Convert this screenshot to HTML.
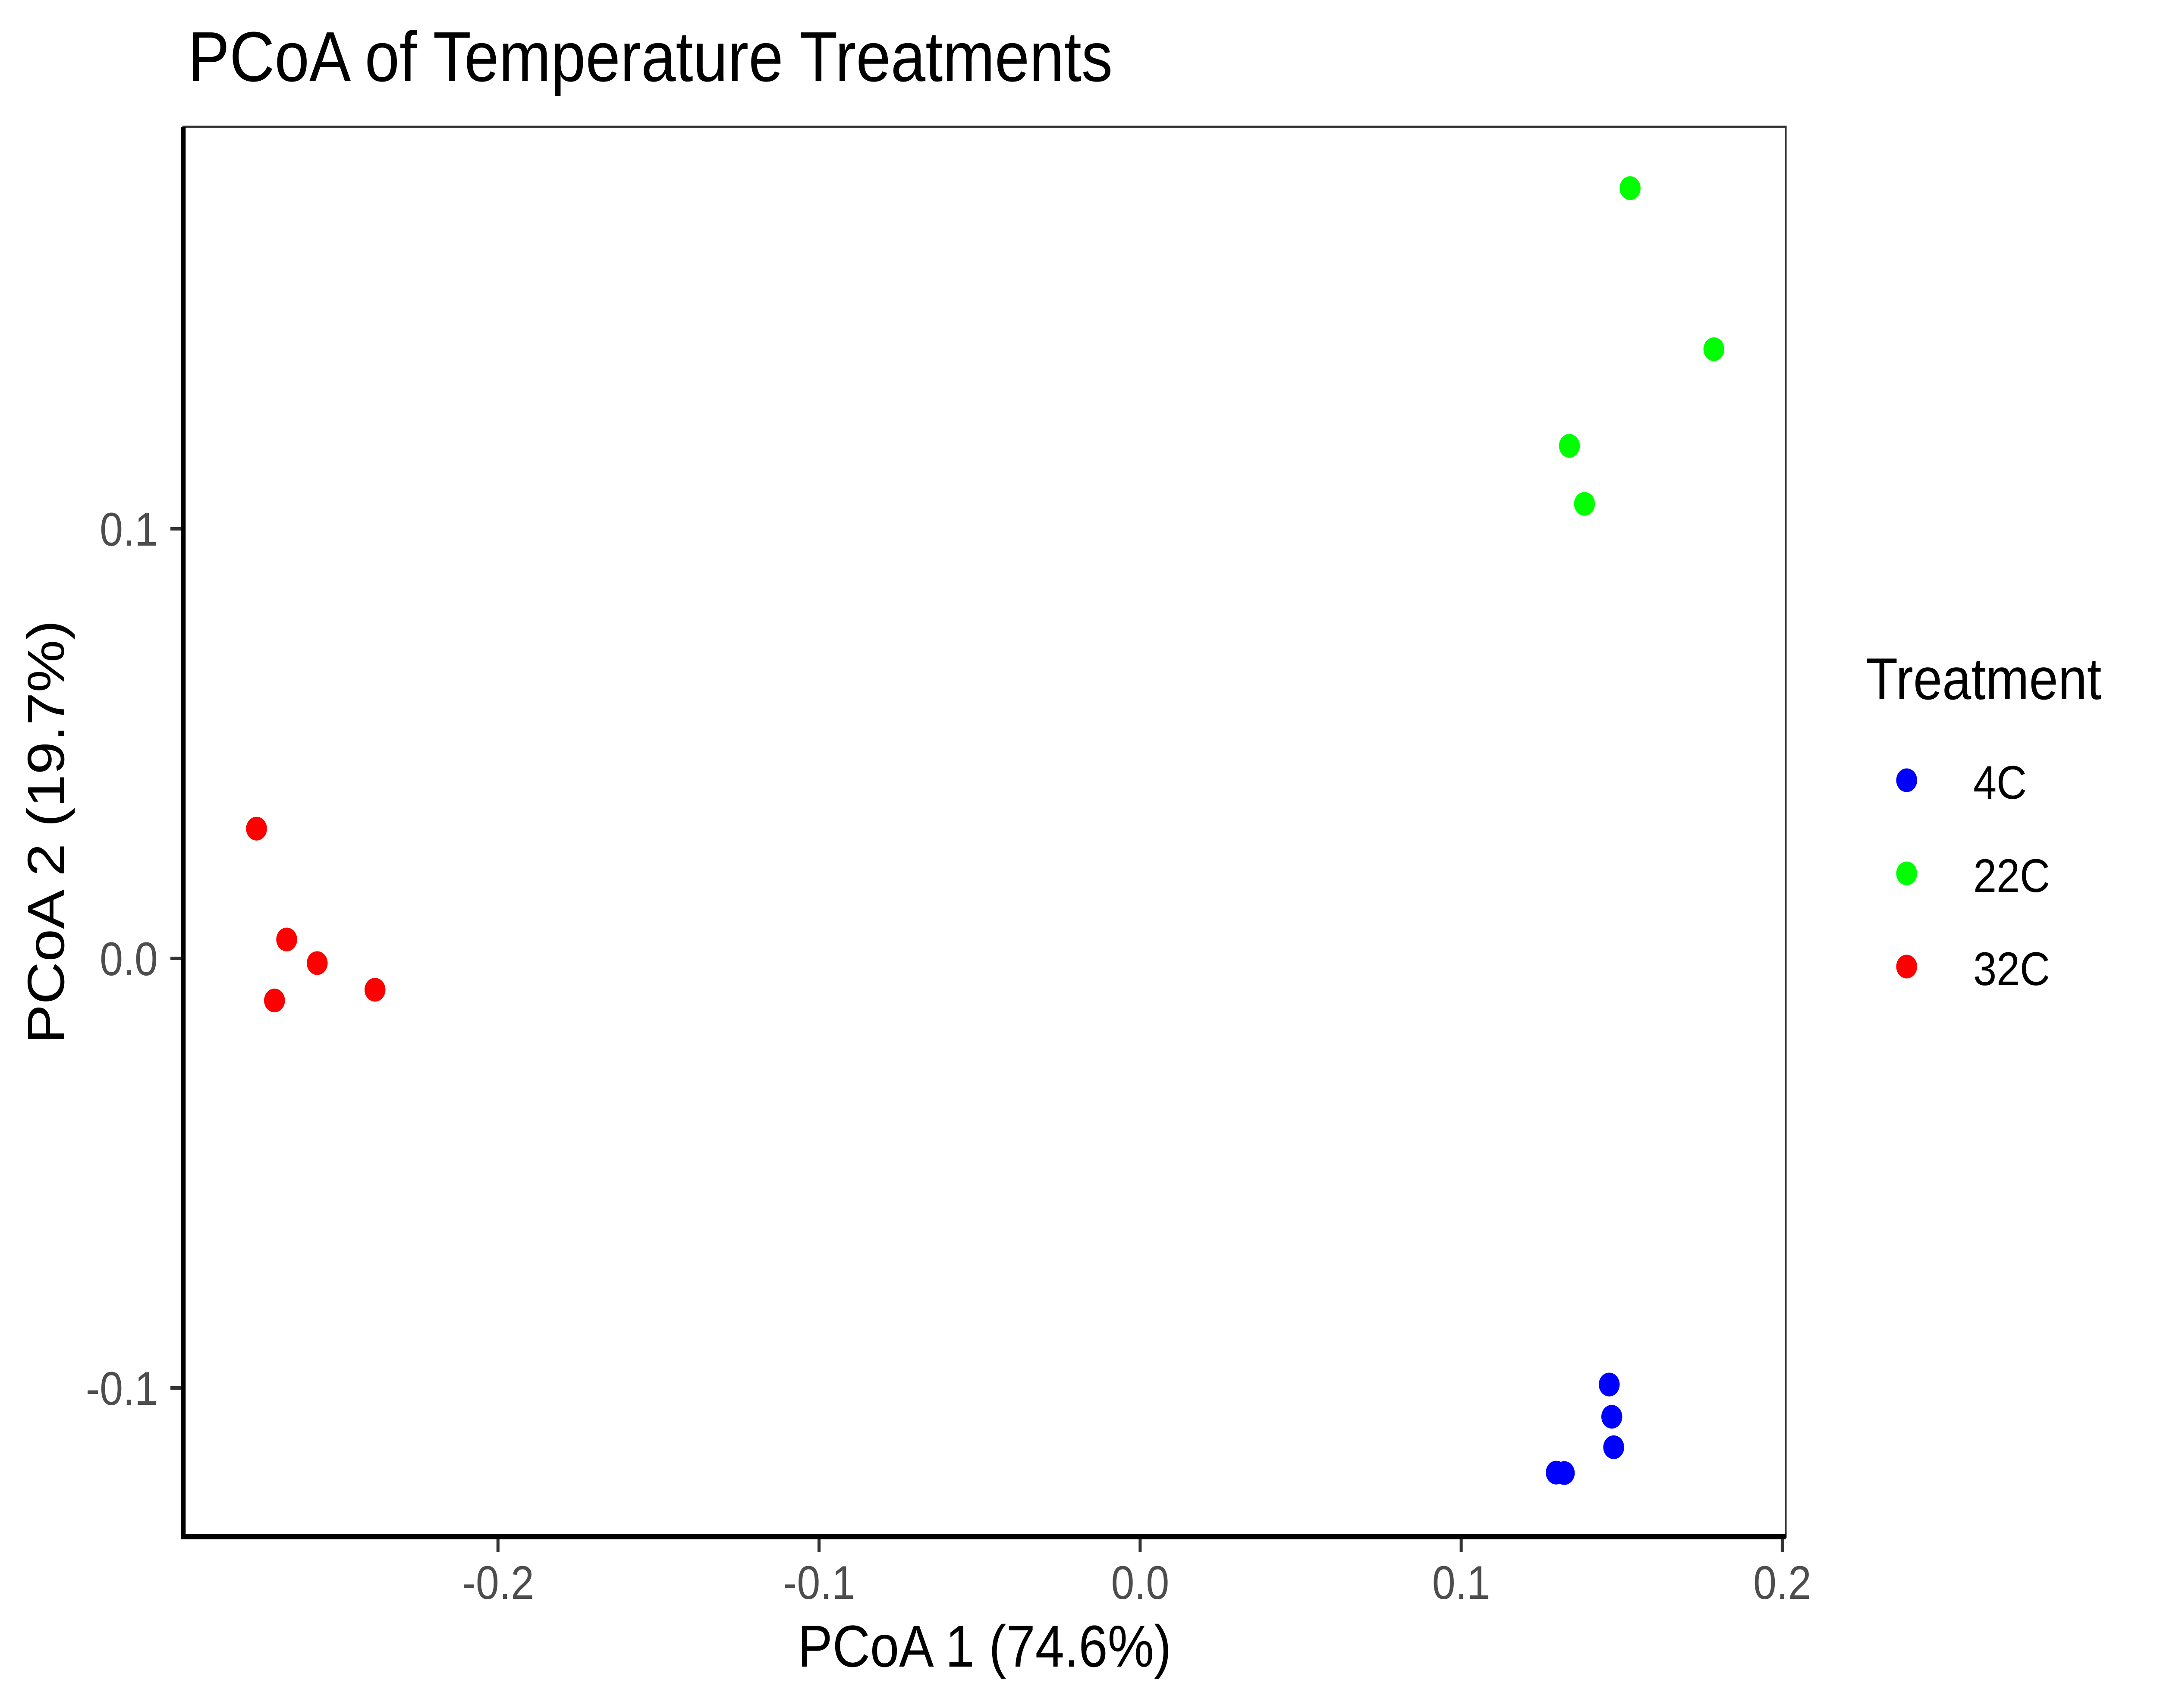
<!DOCTYPE html>
<html><head><meta charset="utf-8">
<style>
html,body{margin:0;padding:0;background:#fff;width:100%;height:100%;overflow:hidden;}
svg{display:block;width:100vw;height:100vh;font-family:"Liberation Sans",Arial,sans-serif;}
</style></head>
<body>
<svg id="chart" viewBox="0 0 5670 3960" preserveAspectRatio="none" xmlns="http://www.w3.org/2000/svg">
<rect x="0" y="0" width="5670" height="3960" fill="#fff"/>
<text x="494" y="188" font-size="164" fill="#000">PCoA of Temperature Treatments</text>
<g id="panel"></g>
<text x="2588" y="3864" font-size="137" text-anchor="middle" fill="#000">PCoA 1 (74.6%)</text>
<text transform="translate(168,1929) rotate(-90)" font-size="137" text-anchor="middle" fill="#000">PCoA 2 (19.7%)</text>
<g>
<text x="4905" y="1621" font-size="137" fill="#000">Treatment</text>
<g id="legend-items"></g>
</g>
</svg>
<script>
const groups = ["4C", "22C", "32C"];
const groupColors = ["#0000FF", "#00FF00", "#FF0000"];
const xTicks = [-0.2, -0.1, 0.0, 0.1, 0.2];
const xTickLabels = ["-0.2", "-0.1", "0.0", "0.1", "0.2"];
const yTicks = [-0.1, 0.0, 0.1];
const yTickLabels = ["-0.1", "0.0", "0.1"];
const pcoa1_4C = [0.1461, 0.1469, 0.1475, 0.1296, 0.1321];
const pcoa2_4C = [-0.0992, -0.1067, -0.1138, -0.1197, -0.1198];
const pcoa1_22C = [0.1526, 0.1787, 0.1337, 0.1384];
const pcoa2_22C = [0.1793, 0.1418, 0.1193, 0.1058];
const pcoa1_32C = [-0.2752, -0.2658, -0.2563, -0.2696, -0.2383];
const pcoa2_32C = [0.0302, 0.0044, -0.0011, -0.0098, -0.0073];

const NS = "http://www.w3.org/2000/svg";
const PL = 482, PR = 4694, PT = 294, PB = 3563;
function xs(v){ return 2997 + v * 8440; }
function ys(v){ return 2222 - v * 9960; }
function mk(tag, attrs, parent){
  const e = document.createElementNS(NS, tag);
  for (const k in attrs) e.setAttribute(k, attrs[k]);
  parent.appendChild(e);
  return e;
}
const panel = document.getElementById('panel');
let border = mk('rect', {x:PL, y:PT, width:PR-PL, height:PB-PT, fill:'none', stroke:'#333', 'stroke-width':5}, panel);



const seriesX = [pcoa1_4C, pcoa1_22C, pcoa1_32C];
const seriesY = [pcoa2_4C, pcoa2_22C, pcoa2_32C];
for (let g = 0; g < groups.length; g++){
  const sg = mk('g', {}, panel);
  
  
  for (let i = 0; i < seriesX[g].length; i++){
    const c = mk('circle', {cx: xs(seriesX[g][i]), cy: ys(seriesY[g][i]), r: 27.5, fill: groupColors[g]}, sg);
    
    
  }
}

let ax = mk('line', {x1:PL-6, y1:PB, x2:PR, y2:PB, stroke:'#000', 'stroke-width':12}, panel);


let ay = mk('line', {x1:PL, y1:PT, x2:PL, y2:PB+6, stroke:'#000', 'stroke-width':12}, panel);



for (let i = 0; i < xTicks.length; i++){
  const x = xs(xTicks[i]);
  const t = mk('line', {x1:x, y1:PB+6, x2:x, y2:PB+36, stroke:'#333', 'stroke-width':8}, panel);
  
  
  const l = mk('text', {x:x, y:3707, 'font-size':110, fill:'#4d4d4d', 'text-anchor':'middle'}, panel);
  l.textContent = xTickLabels[i];
  
  
}
for (let i = 0; i < yTicks.length; i++){
  const y = ys(yTicks[i]);
  const t = mk('line', {x1:448, y1:y, x2:PL-6, y2:y, stroke:'#333', 'stroke-width':8}, panel);
  
  
  const l = mk('text', {x:415, y:y+39, 'font-size':110, fill:'#4d4d4d', 'text-anchor':'end'}, panel);
  l.textContent = yTickLabels[i];
  
  
}

const leg = document.getElementById('legend-items');
for (let g = 0; g < groups.length; g++){
  const cy = 1809 + g * 216;
  const c = mk('circle', {cx:5012, cy:cy, r:27.5, fill:groupColors[g]}, leg);
  
  
  const t = mk('text', {x:5187, y:cy+43, 'font-size':110, fill:'#000'}, leg);
  t.textContent = groups[g];
  
  
}
</script>
</body></html>
